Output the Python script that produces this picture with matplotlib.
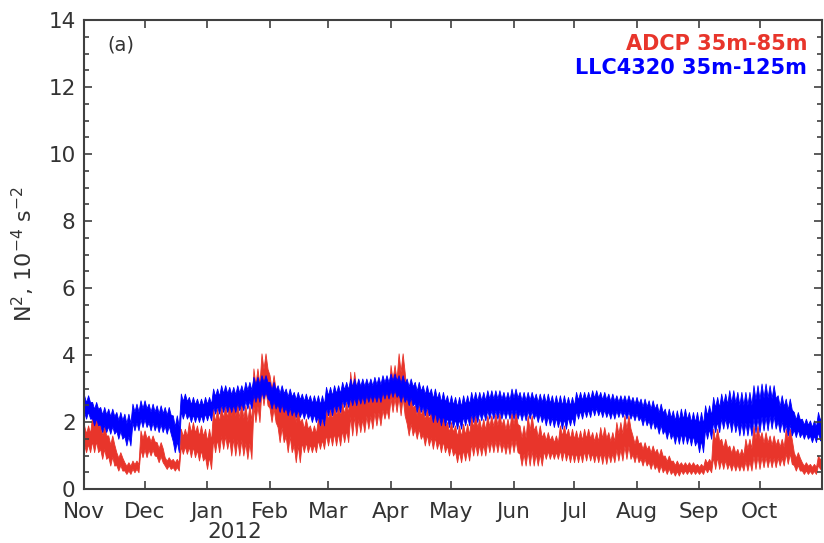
import numpy as np
from matplotlib import pyplot as plt

# Sample days (since 1 Nov 2011), every 4 days
days = np.arange(0, 365, 4)

# Envelope of the noisy records (N^2 in 1e-4 s^-2)
blue_hi = [2.8, 2.6, 2.45, 2.4, 2.3, 2.25, 2.55, 2.65, 2.55, 2.5, 2.45, 2.2, 2.85, 2.75, 2.7, 2.75,
           3.0, 3.1, 3.05, 3.1, 3.2, 3.35, 3.4, 3.2, 3.1, 3.0, 2.9, 2.85, 2.8, 2.8, 3.05, 3.1,
           3.2, 3.3, 3.3, 3.3, 3.35, 3.4, 3.45, 3.4, 3.3, 3.2, 3.1, 3.0, 2.9, 2.8, 2.75, 2.8,
           2.9, 2.9, 2.95, 2.95, 2.9, 3.0, 2.9, 2.9, 2.85, 2.85, 2.8, 2.8, 2.75, 2.9, 2.9, 2.95,
           2.9, 2.85, 2.8, 2.8, 2.75, 2.7, 2.65, 2.55, 2.4, 2.35, 2.4, 2.3, 2.3, 2.5, 2.75, 2.85,
           2.95, 2.9, 2.9, 3.1, 3.15, 3.1, 2.8, 2.7, 2.3, 2.1, 2.05, 2.3]
blue_lo = [2.1, 1.9, 1.7, 1.65, 1.5, 1.3, 1.75, 1.85, 1.75, 1.7, 1.65, 1.1, 2.1, 2.0, 2.0, 2.05,
           2.25, 2.3, 2.3, 2.35, 2.4, 2.6, 2.7, 2.4, 2.3, 2.2, 2.15, 2.1, 2.0, 1.9, 2.2, 2.3,
           2.45, 2.5, 2.55, 2.6, 2.6, 2.7, 2.75, 2.6, 2.5, 2.3, 2.2, 2.0, 1.9, 1.85, 1.8, 1.9,
           2.0, 2.05, 2.1, 2.1, 2.1, 2.1, 2.05, 2.1, 2.0, 1.9, 1.85, 1.8, 1.9, 2.1, 2.15, 2.2,
           2.15, 2.1, 2.15, 2.1, 2.05, 1.9, 1.8, 1.65, 1.5, 1.35, 1.35, 1.3, 1.1, 1.5, 1.7, 1.8,
           1.7, 1.6, 1.6, 1.7, 1.75, 1.8, 1.7, 1.6, 1.55, 1.5, 1.4, 1.45]
red_hi = [1.9, 2.2, 1.9, 1.6, 1.1, 0.8, 0.85, 1.75, 1.6, 1.4, 0.95, 0.9, 1.8, 2.0, 1.9, 1.8,
          2.4, 2.5, 2.7, 2.6, 2.5, 3.6, 4.05, 3.4, 2.9, 2.7, 2.5, 2.1, 1.9, 2.1, 2.4, 2.55,
          2.6, 3.5, 3.0, 3.1, 3.2, 3.0, 3.7, 4.05, 2.8, 2.5, 2.4, 2.35, 2.2, 2.0, 1.9, 1.95,
          2.2, 2.1, 2.2, 2.25, 2.1, 2.3, 1.9, 2.2, 1.9, 1.7, 1.6, 1.9, 1.8, 1.75, 1.8, 1.7,
          1.85, 1.7, 2.0, 2.2, 1.6, 1.4, 1.3, 1.2, 1.0, 0.85, 0.8, 0.8, 0.75, 0.9, 1.8, 1.5,
          1.3, 1.2, 1.5, 1.9, 1.7, 1.6, 1.5, 1.8, 1.1, 0.8, 0.75, 1.0]
red_lo = [1.1, 1.1, 0.9, 0.7, 0.55, 0.45, 0.5, 0.95, 1.0, 0.8, 0.6, 0.55, 1.05, 0.95, 0.85, 0.6,
          1.1, 1.2, 1.0, 1.0, 0.9, 2.0, 2.5, 2.0, 1.4, 1.1, 0.8, 1.1, 1.1, 1.2, 1.3, 1.3,
          1.4, 1.6, 1.7, 1.8, 1.9, 2.1, 2.3, 2.2, 1.6, 1.5, 1.3, 1.2, 1.1, 1.0, 0.8, 0.85,
          1.0, 1.0, 1.1, 1.1, 1.05, 1.1, 0.7, 0.7, 0.7, 0.9, 0.9, 0.85, 0.8, 0.8, 0.85, 0.8,
          0.75, 0.8, 0.85, 0.9, 0.8, 0.7, 0.6, 0.5, 0.45, 0.4, 0.45, 0.45, 0.45, 0.5, 0.6, 0.6,
          0.55, 0.55, 0.55, 0.6, 0.65, 0.65, 0.7, 0.75, 0.55, 0.45, 0.45, 0.6]

month_days = [0, 30, 61, 92, 121, 152, 182, 213, 243, 274, 305, 335]
month_labels = ["Nov", "Dec", "Jan", "Feb", "Mar", "Apr", "May", "Jun", "Jul", "Aug", "Sep", "Oct"]

red = "#e8352b"
blue = "#0000ff"
grey = "#404040"

# time axis with 4 vertices per sample (one per day)
t4 = np.concatenate([days[:, None] + np.arange(4)[None, :]]).ravel()


def ragged(a, b):
    # alternate a, b, a, b within each 4-day sample to give a jagged edge
    a = np.asarray(a)
    b = np.asarray(b)
    return np.stack([a, b, a, b], axis=1).ravel()


fig = plt.figure(figsize=(8.24, 5.43), dpi=100)
ax = fig.add_axes([0.102, 0.0994, 0.8956, 0.8637])

for lo, hi, c in [(red_lo, red_hi, red), (blue_lo, blue_hi, blue)]:
    lo = np.array(lo)
    hi = np.array(hi)
    span = hi - lo
    upper = ragged(hi, hi - 0.3 * span)
    lower = ragged(lo + 0.3 * span, lo)
    ax.fill_between(t4, lower, upper, color=c, lw=0.6, edgecolor=c)

ax.set_xlim(0, 366)
ax.set_ylim(0, 14)
ax.set_xticks(month_days + [366])
ax.set_xticklabels(month_labels + [""])
ax.set_yticks(range(0, 15, 2))
ax.set_yticks(np.arange(0, 14.01, 0.5), minor=True)
ax.tick_params(axis="both", which="both", direction="in", colors=grey,
               labelcolor="#333333", labelsize=15.5, top=True, right=True)
ax.tick_params(axis="both", which="major", length=6, width=1.2)
ax.tick_params(axis="y", which="minor", length=3.5, width=1.2)
ax.tick_params(axis="x", pad=9)
ax.tick_params(axis="y", pad=6)
for s in ax.spines.values():
    s.set_color(grey)
    s.set_linewidth(1.5)

ax.set_ylabel(r"N$^2$, 10$^{-4}$ s$^{-2}$", fontsize=16, color="#333333", labelpad=8)
ax.text(61, -0.071, "2012", transform=ax.get_xaxis_transform(), ha="left", va="top",
        fontsize=15.5, color="#333333")
ax.text(0.031, 0.947, "(a)", transform=ax.transAxes, ha="left", va="center",
        fontsize=14, color="#333333")
ax.text(0.98, 0.949, "ADCP 35m-85m", transform=ax.transAxes, ha="right", va="center",
        fontsize=15, fontweight="bold", color=red)
ax.text(0.98, 0.897, "LLC4320 35m-125m", transform=ax.transAxes, ha="right", va="center",
        fontsize=15, fontweight="bold", color=blue)

plt.savefig("out.png", dpi=100)
